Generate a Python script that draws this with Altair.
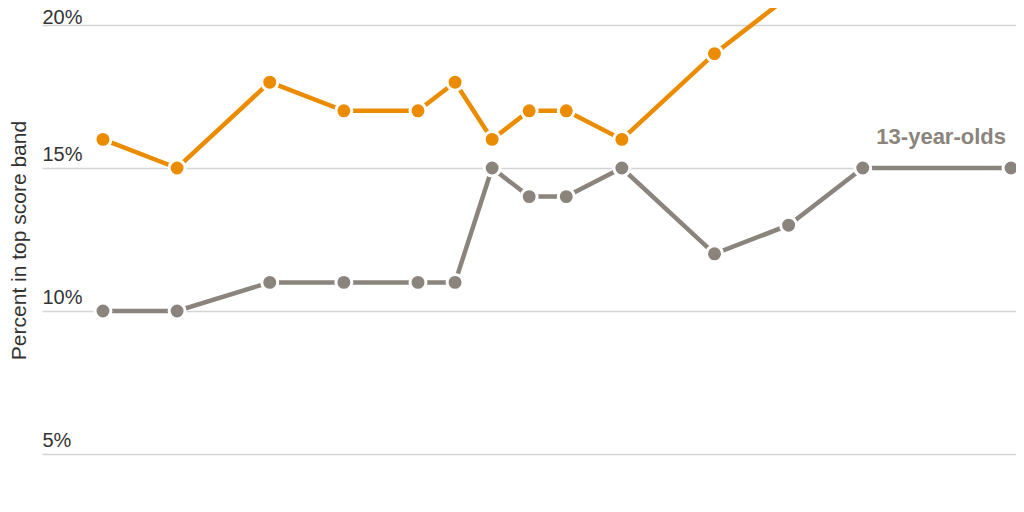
import altair as alt
import pandas as pd

# ---- data ----
years = [1971, 1975, 1980, 1984, 1988, 1990, 1992, 1994, 1996, 1999, 2004, 2008, 2012, 2020]
age13_pct = [10, 10, 11, 11, 11, 11, 15, 14, 14, 15, 12, 13, 15, 15]
other_years = [1971, 1975, 1980, 1984, 1988, 1990, 1992, 1994, 1996, 1999, 2004, 2008]
other_pct = [16, 15, 18, 17, 17, 18, 16, 17, 17, 16, 19, 21]
groups = ["Other age group", "13-year-olds"]
colors = ["#EB8C00", "#8B847C"]
y_ticks = [5, 10, 15, 20]
label_text = "13-year-olds"

df = pd.concat([
    pd.DataFrame({"year": other_years, "pct": other_pct, "group": groups[0]}),
    pd.DataFrame({"year": years, "pct": age13_pct, "group": groups[1]}),
], ignore_index=True)

label_df = pd.DataFrame({"year": [years[-1]], "pct": [age13_pct[-1]], "label": [label_text]})

FONT = "Liberation Sans"

y_scale = alt.Scale(domain=[5, 20], nice=False, zero=False)
x_enc = alt.X("year:Q", scale=alt.Scale(domain=[1967.71, 2020.27], nice=False, zero=False), axis=None)
y_enc = alt.Y(
    "pct:Q",
    scale=y_scale,
    axis=alt.Axis(
        values=y_ticks,
        labelExpr="datum.value + '%'",
        grid=True,
        gridColor="#d4d4d4",
        gridWidth=1.5,
        domain=False,
        ticks=False,
        labelAlign="left",
        labelPadding=0,
        labelBaseline="alphabetic",
        labelOffset={"condition": {"test": "datum.value >= 20", "value": -2}, "value": -8},
        labelFontSize=20,
        labelFont=FONT,
        labelColor="#333333",
        title="Percent in top score band",
        titleFont=FONT,
        titleFontSize=21,
        titleFontWeight="normal",
        titleColor="#333333",
        titleAngle=270,
        titleAlign="center",
        titleBaseline="alphabetic",
        titleX=-17,
        titleY=215,
    ),
)
color_enc = alt.Color("group:N", scale=alt.Scale(domain=groups, range=colors), legend=None)

base = alt.Chart(df).encode(x=x_enc, y=y_enc, color=color_enc, detail="group:N")

lines = base.mark_line(strokeWidth=4.5)
points = base.mark_circle(size=254, stroke="white", strokeWidth=3, opacity=1)

label = alt.Chart(label_df).mark_text(
    align="right", baseline="alphabetic", dx=-5, dy=-24,
    font=FONT, fontSize=22, fontWeight="bold", color=colors[1],
).encode(x=x_enc, y=alt.Y("pct:Q", scale=y_scale), text="label:N")

chart = alt.layer(lines, points, label).properties(
    width=974,
    height=429,
    padding={"left": 34, "top": 17, "right": 0, "bottom": 40},
    autosize="none",
    background="white",
).configure_view(stroke=None)

chart.save("out.html", embed_options={"renderer": "svg", "actions": False})
